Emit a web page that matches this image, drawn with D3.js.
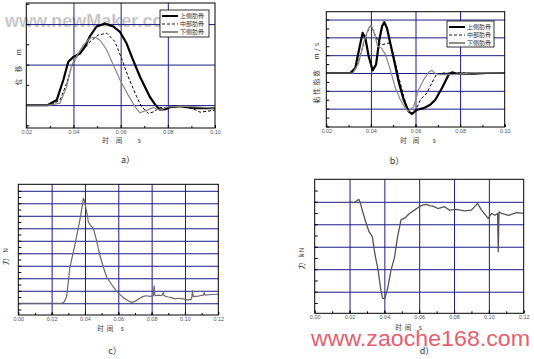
<!DOCTYPE html>
<html>
<head>
<meta charset="utf-8">
<script src="https://cdn.jsdelivr.net/npm/d3@7"></script>
<style>
  body { margin: 0; background: #fff; }
  svg { display: block; }
  .tick text { font-family: "Liberation Sans", sans-serif; font-size: 5.5px; fill: #555; }
  .cn { font-family: "Noto Sans CJK SC", sans-serif; fill: #333; white-space: pre; }
</style>
</head>
<body>
<svg id="canvas" width="534" height="359"></svg>
<script>
// ---- data (time s, value) ----
let dispUpper = [[0.02,0],[0.029,0],[0.0329,0.25],[0.0357,1.24],[0.0378,2.14],[0.040,2.38],[0.0428,2.55],[0.0449,2.9],[0.047,3.4],[0.0498,3.88],[0.0534,4.02],[0.0569,3.88],[0.0598,3.6],[0.0625,3.05],[0.065,2.3],[0.0682,1.4],[0.0724,0.4],[0.0745,0.05],[0.0765,-0.22],[0.079,-0.2],[0.081,-0.1],[0.085,-0.05],[0.088,-0.1],[0.092,-0.15],[0.10,-0.15]];
let dispMiddle = [[0.02,0],[0.0304,0],[0.0343,0.25],[0.0371,1.07],[0.0392,1.9],[0.0415,2.4],[0.0442,2.72],[0.047,3.13],[0.0505,3.46],[0.0541,3.55],[0.0576,3.13],[0.0604,2.3],[0.0632,1.4],[0.0668,0.41],[0.0689,-0.08],[0.0717,-0.41],[0.074,-0.33],[0.0767,-0.12],[0.0809,-0.12],[0.0859,-0.05],[0.091,-0.2],[0.0937,-0.35],[0.10,-0.25]];
let dispLower = [[0.02,0],[0.030,0],[0.0343,0.1],[0.0371,0.9],[0.0392,1.95],[0.0415,2.45],[0.0442,2.96],[0.047,3.3],[0.0491,3.35],[0.0513,3.2],[0.0541,2.72],[0.0569,1.98],[0.0598,1.23],[0.0632,0.49],[0.0661,-0.08],[0.0682,-0.38],[0.0711,-0.25],[0.0739,-0.12],[0.0767,-0.25],[0.0795,-0.1],[0.0852,-0.05],[0.0937,-0.1],[0.10,-0.15]];

let vcUpper = [[0.02,0],[0.0308,0],[0.033,0.28],[0.035,1.5],[0.0363,2.25],[0.0375,1.97],[0.039,0.94],[0.0408,0.15],[0.0423,0.47],[0.0438,1.87],[0.045,2.62],[0.046,2.85],[0.0472,2.53],[0.049,1.5],[0.051,0.37],[0.0524,-0.47],[0.0547,-1.5],[0.0569,-2.15],[0.0584,-2.3],[0.0607,-2.06],[0.0637,-1.97],[0.0666,-1.78],[0.0689,-1.5],[0.0719,-0.84],[0.0749,-0.09],[0.0764,0.04],[0.0786,-0.04],[0.086,-0.04],[0.092,0],[0.10,0]];
let vcMiddle = [[0.02,0],[0.0315,0],[0.0338,0.37],[0.036,1.31],[0.0382,2.25],[0.040,2.66],[0.0415,2.25],[0.0435,1.69],[0.0454,1.6],[0.048,1.69],[0.0495,1.31],[0.051,0.56],[0.0524,-0.19],[0.0547,-1.31],[0.0565,-2.06],[0.058,-2.25],[0.0599,-2.15],[0.0622,-1.5],[0.0651,-1.12],[0.0681,-0.37],[0.0696,-0.04],[0.0726,0],[0.10,0]];
let vcLower = [[0.02,0],[0.032,0],[0.0345,0.56],[0.0367,1.69],[0.039,2.53],[0.0402,2.66],[0.0415,2.25],[0.043,1.5],[0.0447,1.4],[0.0465,1.03],[0.0487,0.19],[0.051,-0.84],[0.0532,-1.5],[0.0554,-1.97],[0.0569,-2.15],[0.0592,-1.87],[0.0614,-0.94],[0.0637,-0.37],[0.0659,0.04],[0.0674,0.15],[0.0689,-0.04],[0.0711,-0.09],[0.0771,-0.09],[0.086,0.02],[0.10,0]];

let forceC = [[0,0],[0.026,0],[0.0275,0.1],[0.029,0.55],[0.031,2.9],[0.034,4.7],[0.037,6.7],[0.0385,7.9],[0.039,8.4],[0.0395,8.3],[0.040,8.0],[0.0415,7.0],[0.042,6.5],[0.0435,6.2],[0.045,6.0],[0.047,5.0],[0.049,3.8],[0.051,2.9],[0.053,2.1],[0.056,1.5],[0.059,0.95],[0.063,0.45],[0.066,0.2],[0.068,0.05],[0.070,0.15],[0.073,0.4],[0.075,0.55],[0.077,0.6],[0.079,0.55],[0.081,0.6],[0.0815,1.4],[0.082,0.6],[0.084,0.65],[0.086,0.6],[0.087,0.85],[0.0875,0.6],[0.090,0.5],[0.092,0.45],[0.094,0.35],[0.096,0.4],[0.099,0.35],[0.102,0.25],[0.104,0.35],[0.1045,1.0],[0.105,0.55],[0.107,0.55],[0.109,0.6],[0.111,0.65],[0.1115,0.85],[0.112,0.65],[0.116,0.7],[0.12,0.72]];

let forceD = [[0.02,0],[0.0225,-0.04],[0.0245,0.07],[0.0254,0.1],[0.0262,-0.05],[0.0273,-0.37],[0.0293,-0.9],[0.0312,-1.33],[0.0331,-1.55],[0.0345,-2.3],[0.0364,-3.04],[0.038,-3.93],[0.039,-4.3],[0.0403,-4.3],[0.0419,-3.85],[0.0438,-3.04],[0.0457,-2.52],[0.0476,-1.55],[0.0496,-0.79],[0.0515,-0.74],[0.0544,-0.52],[0.0573,-0.37],[0.060,-0.22],[0.062,-0.15],[0.064,-0.12],[0.066,-0.17],[0.0678,-0.19],[0.0707,-0.3],[0.0745,-0.22],[0.0774,-0.37],[0.0813,-0.34],[0.0861,-0.4],[0.09,-0.37],[0.0935,-0.07],[0.0958,-0.37],[0.0996,-0.74],[0.1016,-0.52],[0.1035,-0.6],[0.105,-0.52],[0.1054,-2.22],[0.1058,-0.45],[0.1074,-0.52],[0.1112,-0.6],[0.116,-0.48],[0.12,-0.52]];

let legendNames = ['上侧肋骨', '中部肋骨', '下侧肋骨'];
let ticks02to10 = [0.02, 0.04, 0.06, 0.08, 0.10];
let ticks00to12 = [0, 0.02, 0.04, 0.06, 0.08, 0.10, 0.12];

let svg = d3.select('#canvas');
let fmt = d3.format('.2f');

// series styles: thick black, dashed, gray
let styles = [
  {stroke:'#000', width:2.2, dash:null},
  {stroke:'#000', width:1, dash:'3,2'},
  {stroke:'#888', width:1.2, dash:null}
];

function drawPanel(p) {
  let x = d3.scaleLinear().domain(p.xd).range([p.left, p.right]);
  let y = d3.scaleLinear().domain(p.yd).range([p.bottom, p.top]);
  let g = svg.append('g');
  let h = p.bottom - p.top, w = p.right - p.left;

  // grid
  g.append('g').attr('transform', 'translate(0,' + p.bottom + ')')
    .call(d3.axisBottom(x).tickValues(p.xGrid).tickSize(-h).tickFormat(''))
    .call(a => a.select('.domain').remove())
    .selectAll('line').attr('stroke', '#1c1c8a').attr('stroke-width', 1);
  g.append('g').attr('transform', 'translate(' + p.left + ',0)')
    .call(d3.axisLeft(y).tickValues(p.yGrid).tickSize(-w).tickFormat(''))
    .call(a => a.select('.domain').remove())
    .selectAll('line').attr('stroke', '#1c1c8a').attr('stroke-width', 1);

  // small inward ticks
  g.append('g').attr('transform', 'translate(' + p.left + ',0)')
    .call(d3.axisLeft(y).tickValues(p.yMinor).tickSize(-3).tickFormat(''))
    .call(a => a.select('.domain').remove())
    .selectAll('line').attr('stroke', '#000');
  g.append('g').attr('transform', 'translate(0,' + p.bottom + ')')
    .call(d3.axisBottom(x).tickValues(p.xMinor).tickSize(-2).tickFormat(''))
    .call(a => a.select('.domain').remove())
    .selectAll('line').attr('stroke', '#000');

  // labels
  let xa = g.append('g').attr('transform', 'translate(0,' + p.bottom + ')')
    .call(d3.axisBottom(x).tickValues(p.xTicks).tickSize(-3).tickPadding(1.8).tickFormat(fmt));
  xa.select('.domain').remove();
  xa.selectAll('line').attr('stroke', '#000');

  // curves
  let line = d3.line().x(d => x(d[0])).y(d => y(d[1]));
  p.series.forEach((s, i) => {
    let st = p.styles[i];
    g.append('path').datum(s).attr('d', line).attr('fill', 'none')
      .attr('stroke', st.stroke).attr('stroke-width', st.width)
      .attr('stroke-dasharray', st.dash).attr('stroke-linejoin', 'round');
  });

  // frame
  g.append('rect').attr('x', p.left).attr('y', p.top).attr('width', w).attr('height', h)
    .attr('fill', 'none').attr('stroke', '#000').attr('stroke-width', 1);

  // titles
  g.append('text').attr('class', 'cn').attr('x', p.xl[0]).attr('y', p.xl[1])
    .attr('text-anchor', 'middle').style('font-size', '6.5px')
    .style('letter-spacing', p.xl[2] + 'px').text('时间 s');
  g.append('text').attr('class', 'cn')
    .attr('transform', 'translate(' + p.yl[0] + ',' + p.yl[1] + ') rotate(-90)')
    .attr('text-anchor', 'middle').style('font-size', '6.5px')
    .style('letter-spacing', p.yl[2] + 'px').text(p.ylabel);
  g.append('text').attr('x', p.cap[0]).attr('y', p.cap[1])
    .attr('text-anchor', 'middle')
    .style('font-family', '"Noto Sans CJK SC", sans-serif').style('font-size', '9px').style('fill', '#333')
    .text(p.caption);

  // legend
  if (p.legend) {
    let L = p.legend;
    let lg = g.append('g');
    lg.append('rect').attr('x', L.x).attr('y', L.y).attr('width', L.w).attr('height', L.h)
      .attr('fill', '#fff').attr('stroke', '#000').attr('stroke-width', 0.8);
    legendNames.forEach((n, i) => {
      let yy = L.y + 6 + i * 8;
      let st = p.styles[i];
      lg.append('line').attr('x1', L.x + 2).attr('x2', L.x + 18).attr('y1', yy).attr('y2', yy)
        .attr('stroke', i == 2 ? '#000' : st.stroke).attr('stroke-width', i == 0 ? 2 : 0.9)
        .attr('stroke-dasharray', st.dash);
      lg.append('text').attr('class', 'cn').attr('x', L.x + 20).attr('y', yy + 2.2)
        .style('font-size', '6px').text(n);
    });
  }
}

// watermark a (behind legend)
svg.append('text').attr('x', 5).attr('y', 27)
  .style('font-family', '"Liberation Sans", sans-serif').style('font-weight', 'bold')
  .style('font-size', '18px').style('fill', '#bdbdbd')
  .attr('stroke', '#e8e8e8').attr('stroke-width', 0.6)
  .text('www.newMaker.com');

let panels = [
  {left:26.3, right:215, top:3, bottom:128, xd:[0.02,0.10], yd:[-1.13,5.04],
   xTicks:ticks02to10, xGrid:[0.04,0.06,0.08], xMinor:d3.range(0.03,0.10,0.02),
   yGrid:[0,2,4], yMinor:d3.range(-1,5.5,1),
   series:[dispUpper, dispMiddle, dispLower], styles:styles,
   ylabel:'位 移  m', xl:[125,142.5,7], yl:[21,66,2.5], cap:[128,163], caption:'a）',
   legend:{x:160, y:10, w:49, h:27}},
  {left:326.3, right:504.7, top:11.7, bottom:127, xd:[0.02,0.10], yd:[-3.03,3.44],
   xTicks:ticks02to10, xGrid:[0.04,0.06,0.08], xMinor:d3.range(0.03,0.10,0.01),
   yGrid:[-2,-1,0,1,2,3], yMinor:d3.range(-3,3.5,0.5),
   series:[vcUpper, vcMiddle, vcLower], styles:styles,
   ylabel:'粘性指数  m/s', xl:[421,142.5,6], yl:[319,72,2.5], cap:[397,164], caption:'b）',
   legend:{x:447, y:21, w:47, h:26}},
  {left:18.3, right:218.3, top:184.3, bottom:315, xd:[0,0.12], yd:[-0.94,9.52],
   xTicks:ticks00to12, xGrid:[0.02,0.04,0.06,0.08,0.10], xMinor:d3.range(0.01,0.12,0.01),
   yGrid:d3.range(0,10,1), yMinor:d3.range(-0.5,9.5,0.5),
   series:[forceC], styles:[{stroke:'#6a6a6a', width:1.2, dash:null}],
   ylabel:'力  N', xl:[112,330.5,3], yl:[8,256,1], cap:[115,354], caption:'c）'},
  {left:314.7, right:523.7, top:179.3, bottom:313.3, xd:[0,0.12], yd:[-4.96,1.0],
   xTicks:ticks00to12, xGrid:[0.02,0.04,0.06,0.08,0.10], xMinor:d3.range(0.01,0.12,0.01),
   yGrid:[-4,-3,-2,-1,0], yMinor:d3.range(-4.5,1,0.5),
   series:[forceD], styles:[{stroke:'#555', width:1.3, dash:null}],
   ylabel:'力  kN', xl:[410,330,3], yl:[304,258,1], cap:[427,354], caption:'d）'}
];

panels.forEach(drawPanel);

// watermark d
svg.append('text').attr('x', 311).attr('y', 346)
  .style('font-family', '"Liberation Sans", sans-serif')
  .style('font-size', '22px').style('fill', '#e5606e')
  .attr('textLength', 219).attr('lengthAdjust', 'spacingAndGlyphs')
  .text('www.zaoche168.com');
</script>
</body>
</html>
